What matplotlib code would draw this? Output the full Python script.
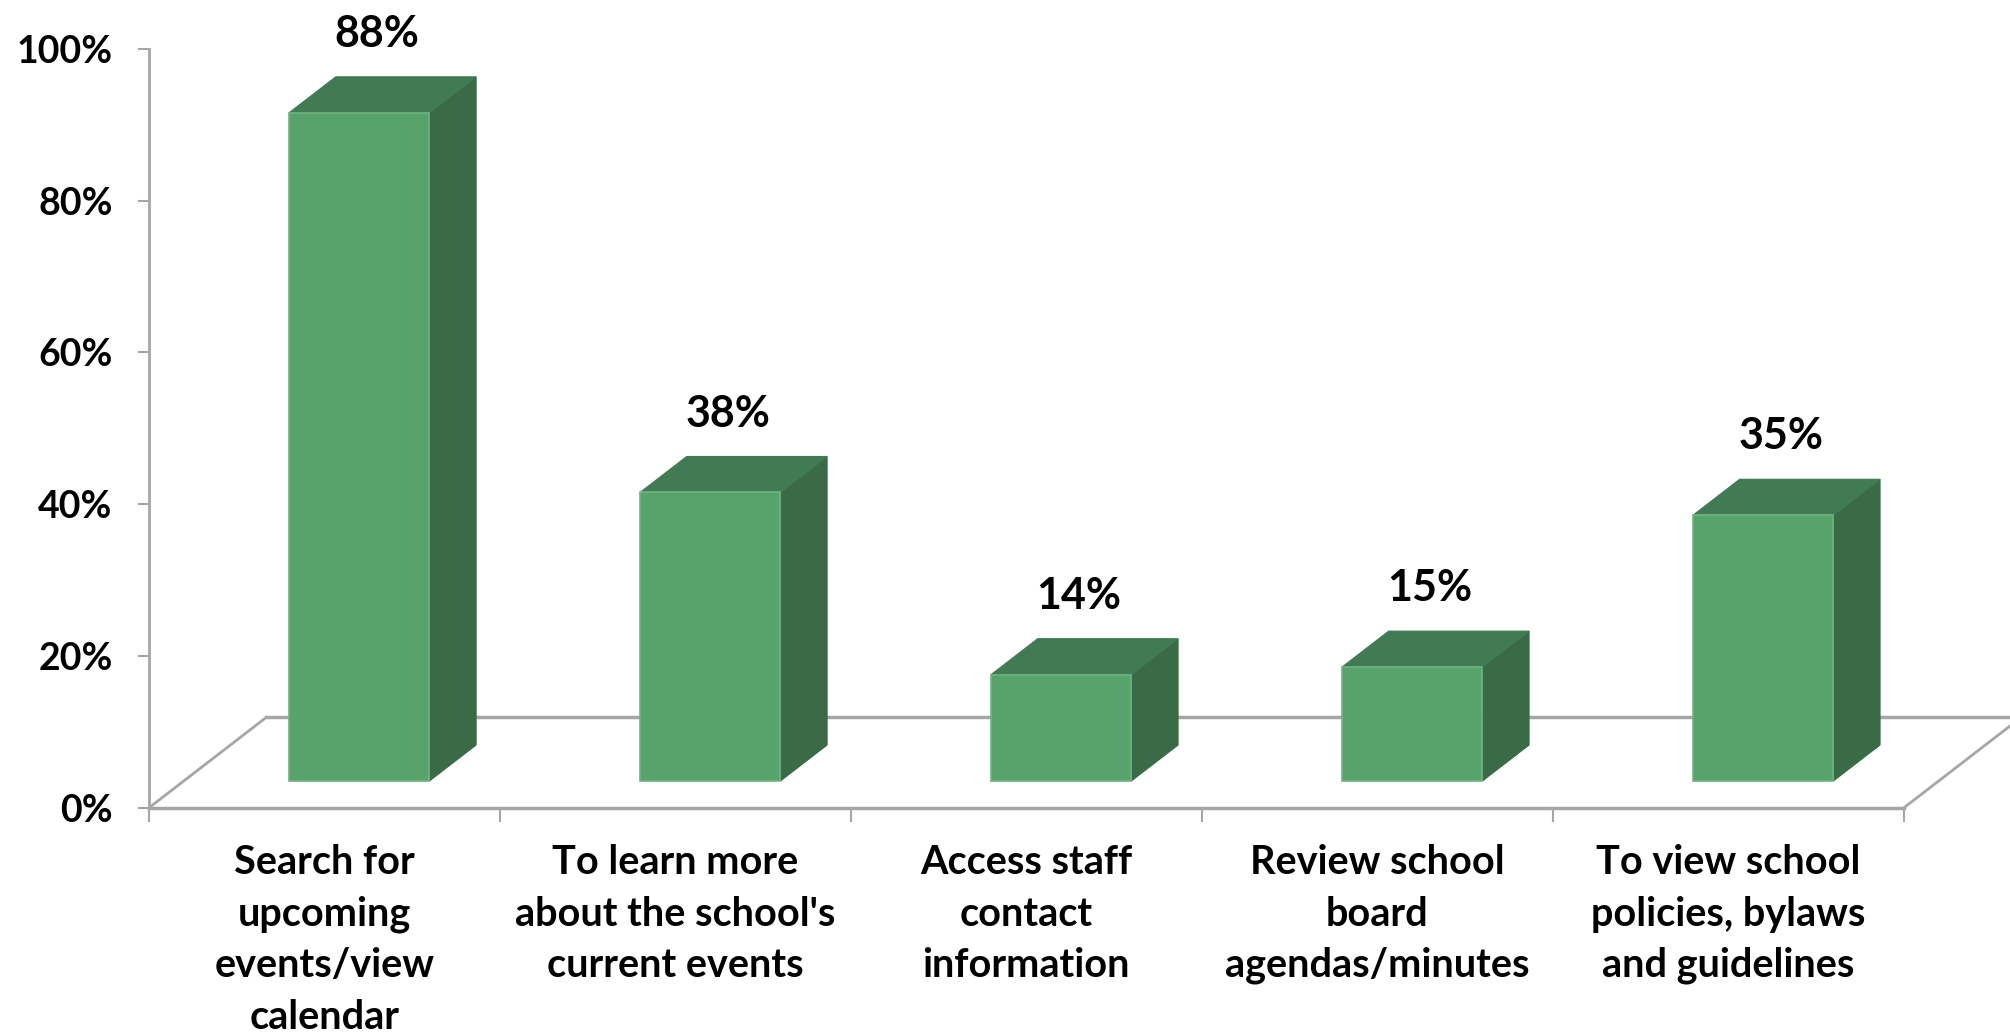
import matplotlib
matplotlib.use("Agg")
import matplotlib.pyplot as plt
from matplotlib.patches import Polygon
from matplotlib.lines import Line2D

# ---- data ----
categories = [
    "Search for\nupcoming\nevents/view\ncalendar",
    "To learn more\nabout the school's\ncurrent events",
    "Access staff\ncontact\ninformation",
    "Review school\nboard\nagendas/minutes",
    "To view school\npolicies, bylaws\nand guidelines",
]
values = [88, 38, 14, 15, 35]
value_labels = ["88%", "38%", "14%", "15%", "35%"]
yticks = [0, 20, 40, 60, 80, 100]
ytick_labels = ["0%", "20%", "40%", "60%", "80%", "100%"]

# ---- style ----
FONT = ["Lato", "DejaVu Sans"]
plt.rcParams["font.family"] = FONT
FRONT = "#57A36B"
TOP = "#417B53"
SIDE = "#3A6A46"
EDGE = "#6FB482"
GRID = "#A6A6A6"

W, H = 2010, 1036
fig = plt.figure(figsize=(W / 100, H / 100), dpi=100)
x0px, x1px = 148.7, 1903.6
y0px, y1px = 808.0, 48.7
ax = fig.add_axes([x0px / W, 1 - y0px / H, (x1px - x0px) / W, (y0px - y1px) / H])
n = len(categories)
ax.set_xlim(0, n)
ax.set_ylim(0, 100)

# 3D projection in data units
floor_dx, floor_dy = 0.336, 11.97          # full depth of floor
front_frac, depth_frac = 0.297, 0.396      # bar placement within depth
bar_w = 0.40

# floor outline
ax.add_line(Line2D([0, floor_dx], [0, floor_dy], color=GRID, lw=2, clip_on=False, zorder=1))
ax.add_line(Line2D([floor_dx, n + floor_dx], [floor_dy, floor_dy], color=GRID, lw=2.5, clip_on=False, zorder=1))
ax.add_line(Line2D([n, n + floor_dx], [0, floor_dy], color=GRID, lw=2, clip_on=False, zorder=1))

bdx, bdy = floor_dx * depth_frac, floor_dy * depth_frac
for i, v in enumerate(values):
    cx = i + 0.5 + floor_dx * front_frac
    base = floor_dy * front_frac
    xl, xr = cx - bar_w / 2, cx + bar_w / 2
    top = base + v
    front = Polygon([(xl, base), (xr, base), (xr, top), (xl, top)], closed=True,
                    facecolor=FRONT, edgecolor=EDGE, lw=1.2, zorder=3, clip_on=False)
    side = Polygon([(xr, base), (xr + bdx, base + bdy), (xr + bdx, top + bdy), (xr, top)],
                   closed=True, facecolor=SIDE, edgecolor=SIDE, lw=0.8, zorder=2, clip_on=False)
    topf = Polygon([(xl, top), (xr, top), (xr + bdx, top + bdy), (xl + bdx, top + bdy)],
                   closed=True, facecolor=TOP, edgecolor=TOP, lw=0.8, zorder=2, clip_on=False)
    for p in (side, topf, front):
        ax.add_patch(p)
    ax.text(cx + 0.05, top + bdy + 3.0, value_labels[i], ha="center", va="bottom",
            fontsize=31, fontweight="bold", color="black", family=FONT)

# axes styling
for s in ("top", "right"):
    ax.spines[s].set_visible(False)
ax.spines["left"].set_color(GRID)
ax.spines["left"].set_linewidth(2)
ax.spines["bottom"].set_color(GRID)
ax.spines["bottom"].set_linewidth(2.5)

ax.set_yticks(yticks)
ax.set_yticklabels(ytick_labels, fontsize=27, fontweight="bold")
ax.tick_params(axis="y", length=8, width=1.5, color=GRID, pad=18)

ax.set_xticks([i + 0.5 for i in range(n)])
ax.set_xticklabels(categories, fontsize=28.5, fontweight="bold", linespacing=1.48)
ax.set_xticks(list(range(n + 1)), minor=True)
ax.tick_params(axis="x", which="major", length=0, pad=26)
ax.tick_params(axis="x", which="minor", length=10, width=1.5, color=GRID)

fig.savefig("out.png", dpi=100, facecolor="white")
